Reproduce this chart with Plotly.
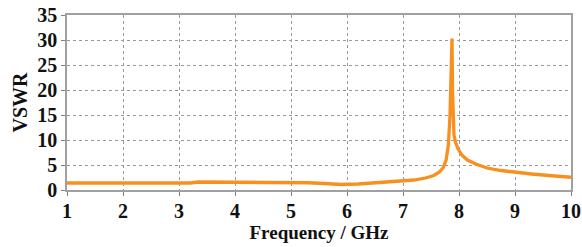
import plotly.graph_objects as go

freq = [1, 1.5, 2, 2.5, 3, 3.2, 3.35, 3.5, 4, 4.5, 5, 5.3, 5.6, 5.9, 6.2, 6.5, 6.8, 7.0, 7.2, 7.4,
        7.55, 7.65, 7.72, 7.77, 7.81, 7.84, 7.86, 7.875, 7.885, 7.895, 7.91, 7.94, 7.98, 8.05,
        8.15, 8.3, 8.5, 8.75, 9.0, 9.3, 9.6, 10.0]
vswr = [1.4, 1.4, 1.4, 1.4, 1.4, 1.4, 1.6, 1.6, 1.6, 1.6, 1.55, 1.45, 1.3, 1.1, 1.2, 1.4, 1.6, 1.8, 2.0, 2.4,
        2.9, 3.6, 4.5, 6.0, 9.0, 15.0, 24.0, 30.3, 20.0, 14.0, 11.0, 9.5, 8.3, 7.0,
        6.0, 5.2, 4.4, 3.9, 3.55, 3.2, 2.9, 2.55]

x_ticks = [1, 2, 3, 4, 5, 6, 7, 8, 9, 10]
y_ticks = [0, 5, 10, 15, 20, 25, 30, 35]

font_family = "Times New Roman, Liberation Serif, DejaVu Serif, serif"

fig = go.Figure()
fig.add_trace(go.Scatter(x=freq, y=vswr, mode="lines",
                         line=dict(color="#F7901E", width=3.3), showlegend=False))

axis_common = dict(
    showline=True, linecolor="#a0a0a0", linewidth=1.5, mirror=True,
    showgrid=True, gridcolor="#999999", griddash="dot", gridwidth=1,
    ticks="outside", ticklen=4, tickcolor="#808080",
    tickfont=dict(family=font_family, size=20, color="#111"),
    zeroline=False, automargin=False,
)

fig.update_layout(
    width=582, height=247,
    margin=dict(l=67, r=11, t=15, b=57),
    plot_bgcolor="white", paper_bgcolor="white",
    font=dict(family=font_family),
    xaxis=dict(range=[1, 10], tickvals=x_ticks, ticktext=[f"<b>{t}</b>" for t in x_ticks],
               ticklabelstandoff=-2, **axis_common,
               title=dict(text="<b>Frequency / GHz</b>", standoff=0,
                          font=dict(family=font_family, size=19, color="#111"))),
    yaxis=dict(range=[0, 35], tickvals=y_ticks, ticktext=[f"<b>{t}</b>" for t in y_ticks],
               **axis_common,
               title=dict(text="<b>VSWR</b>", standoff=4,
                          font=dict(family=font_family, size=20, color="#111"))),
)

fig.write_html("out.html", config={"displayModeBar": False},
               post_script="document.body.style.margin='0';document.body.style.overflow='hidden';")
